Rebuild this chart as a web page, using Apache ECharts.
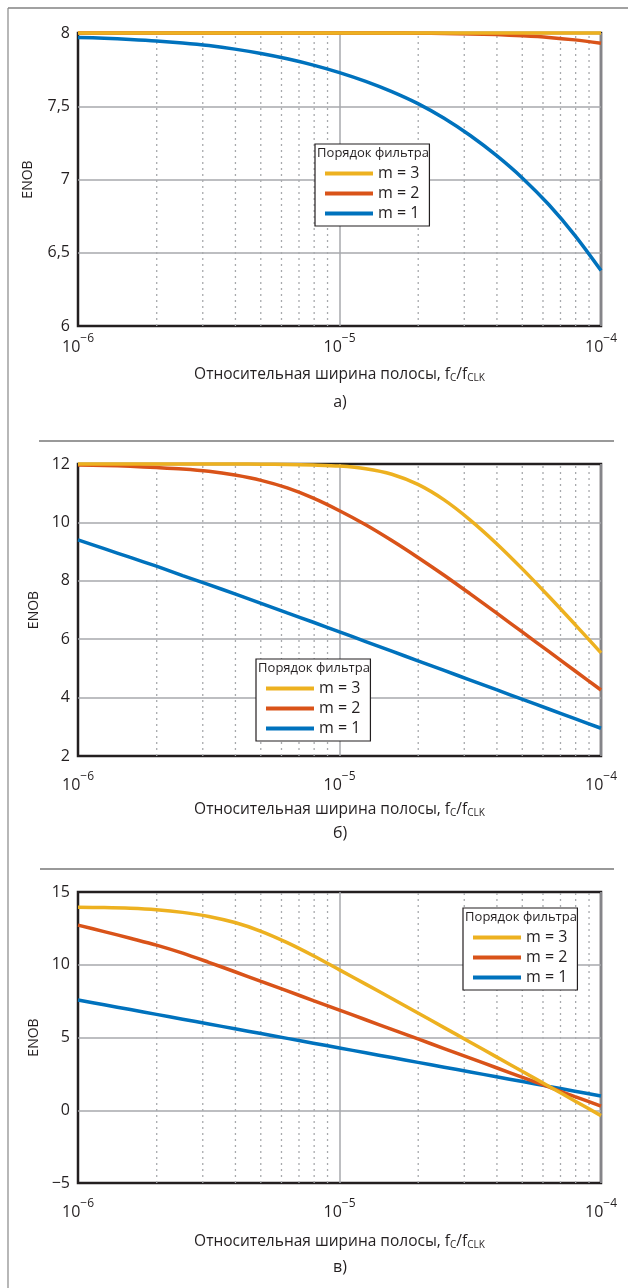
<!DOCTYPE html>
<html>
<head>
<meta charset="utf-8">
<script src="https://cdn.jsdelivr.net/npm/echarts@6/dist/echarts.min.js"></script>
<style>
html, body { margin: 0; padding: 0; background: #fff; }
#chart { width: 628px; height: 1288px; }
</style>
</head>
<body>
<div id="chart"></div>
<script>
// относительная полоса fc/fclk (шаг 0.1 декады)
var freq = [1e-6, 1.259e-6, 1.585e-6, 1.995e-6, 2.512e-6, 3.162e-6, 3.981e-6, 5.012e-6, 6.31e-6, 7.943e-6,
	1e-5, 1.259e-5, 1.585e-5, 1.995e-5, 2.512e-5, 3.162e-5, 3.981e-5, 5.012e-5, 6.31e-5, 7.943e-5, 1e-4];
// дробные деления (пунктир)
var minorTicks = [2e-6, 3e-6, 4e-6, 5e-6, 6e-6, 7e-6, 8e-6, 9e-6,
	2e-5, 3e-5, 4e-5, 5e-5, 6e-5, 7e-5, 8e-5, 9e-5];

var seriesNames = ['m = 1', 'm = 2', 'm = 3'];
var legendNames = ['m = 3', 'm = 2', 'm = 1'];
var colors = ['#0072bd', '#d95319', '#edb120'];

// а)
var enobA1 = [7.97, 7.964, 7.956, 7.946, 7.932, 7.914, 7.89, 7.86, 7.824, 7.781, 7.73, 7.67, 7.6, 7.518, 7.418, 7.3, 7.164, 7.009, 6.829, 6.619, 6.379];
var enobA2 = [8, 8, 8, 8, 8, 8, 8, 8, 8, 8, 8, 8, 8, 7.999, 7.997, 7.994, 7.989, 7.981, 7.97, 7.953, 7.93];
var enobA3 = [8, 8, 8, 8, 8, 8, 8, 8, 8, 8, 8, 8, 8, 8, 8, 8, 8, 8, 8, 8, 8];
// б)
var enobB1 = [9.4, 9.1, 8.8, 8.5, 8.18, 7.87, 7.55, 7.23, 6.9, 6.58, 6.25, 5.92, 5.59, 5.26, 4.93, 4.6, 4.27, 3.94, 3.61, 3.28, 2.95];
var enobB2 = [11.97, 11.95, 11.92, 11.88, 11.83, 11.75, 11.62, 11.44, 11.18, 10.83, 10.4, 9.92, 9.38, 8.8, 8.19, 7.55, 6.9, 6.24, 5.58, 4.92, 4.26];
var enobB3 = [12, 12, 12, 12, 12, 12, 11.998, 11.995, 11.985, 11.965, 11.93, 11.84, 11.65, 11.3, 10.77, 10.08, 9.28, 8.4, 7.47, 6.51, 5.53];
// в)
var enobC1 = [7.58, 7.25, 6.92, 6.59, 6.26, 5.93, 5.6, 5.27, 4.94, 4.61, 4.28, 3.95, 3.62, 3.29, 2.96, 2.63, 2.3, 1.97, 1.64, 1.31, 0.98];
var enobC2 = [12.72, 12.28, 11.82, 11.35, 10.8, 10.17, 9.52, 8.86, 8.2, 7.54, 6.88, 6.22, 5.56, 4.9, 4.24, 3.58, 2.92, 2.26, 1.6, 0.94, 0.28];
var enobC3 = [13.95, 13.93, 13.88, 13.78, 13.6, 13.32, 12.9, 12.3, 11.52, 10.62, 9.65, 8.67, 7.68, 6.68, 5.68, 4.68, 3.67, 2.66, 1.65, 0.64, -0.37];

var yMin = [6, 2, -5];
var yMax = [8, 12, 15];
var yStep = [0.5, 2, 5];
var captions = ['а)', 'б)', 'в)'];

var panels = [[enobA1, enobA2, enobA3], [enobB1, enobB2, enobB3], [enobC1, enobC2, enobC3]];

var font = "'Open Sans', 'Noto Sans', sans-serif";
var ink = '#231f20';
var gridGray = '#a7a9ac';

// раскладка
var grids = [
	{ left: 78, top: 33, width: 523, height: 293 },
	{ left: 78, top: 464, width: 523, height: 292 },
	{ left: 78, top: 892, width: 523, height: 291 }
];
var xLabelMargin = [7, 15, 15];
var xNameGap = [37, 42, 47];
var yNameGap = [43, 28, 29];
var captionY = [402, 833, 1267];
var legendPos = [[315, 144], [256, 659], [463, 908]];

function pairs(ys) {
	var out = [];
	for (var i = 0; i < freq.length; i++) {
		out.push([freq[i], ys[i]]);
	}
	return out;
}

// вертикальные отрезки на дробных делениях, разорванные пустыми точками
function minorSegments(lo, hi) {
	var out = [];
	for (var i = 0; i < minorTicks.length; i++) {
		out.push([minorTicks[i], lo], [minorTicks[i], hi], [minorTicks[i], '-']);
	}
	return out;
}

var xAxes = [], yAxes = [], series = [], legends = [], graphics = [];

for (var p = 0; p < 3; p++) {
	grids[p].show = true;
	grids[p].borderColor = ink;
	grids[p].borderWidth = 2.5;
	grids[p].backgroundColor = 'transparent';

	xAxes.push({
		type: 'log',
		logBase: 10,
		gridIndex: p,
		min: 1e-6,
		max: 1e-4,
		axisLine: { show: false },
		axisTick: { show: false },
		splitLine: { show: true, showMinLine: false, showMaxLine: false, lineStyle: { color: gridGray, width: 1.5 } },
		axisLabel: {
			margin: xLabelMargin[p],
			formatter: function (v) {
				var e = Math.round(Math.log(v) / Math.LN10);
				return '{b|10}{s|−' + (-e) + '}';
			},
			rich: {
				b: { fontSize: 16, lineHeight: 22, verticalAlign: 'bottom', color: ink, fontFamily: font },
				s: { fontSize: 12, lineHeight: 14, verticalAlign: 'top', color: ink, fontFamily: font }
			}
		},
		name: '{n|Относительная ширина полосы, f}{s|C}{n|/f}{s|CLK}',
		nameLocation: 'middle',
		nameGap: xNameGap[p],
		nameTextStyle: {
			rich: {
				n: { fontSize: 15.5, lineHeight: 20, verticalAlign: 'bottom', color: ink, fontFamily: font },
				s: { fontSize: 10, lineHeight: 16, verticalAlign: 'bottom', color: ink, fontFamily: font }
			}
		}
	});

	yAxes.push({
		type: 'value',
		gridIndex: p,
		min: yMin[p],
		max: yMax[p],
		interval: yStep[p],
		axisLine: { show: false },
		axisTick: { show: false },
		splitLine: { show: true, showMinLine: false, showMaxLine: false, lineStyle: { color: gridGray, width: 1.5 } },
		axisLabel: {
			margin: 8,
			fontSize: 16,
			color: ink,
			fontFamily: font,
			formatter: function (v) {
				return String(v).replace('.', ',').replace('-', '−');
			}
		},
		name: 'ENOB',
		nameLocation: 'middle',
		nameGap: yNameGap[p],
		nameTextStyle: { fontSize: 14, color: ink, fontFamily: font }
	});

	// пунктирная сетка
	series.push({
		type: 'line',
		xAxisIndex: p,
		yAxisIndex: p,
		data: minorSegments(yMin[p], yMax[p]),
		showSymbol: false,
		connectNulls: false,
		silent: true,
		z: 1,
		lineStyle: { color: gridGray, width: 1.3, type: [2, 4] },
		emphasis: { disabled: true }
	});

	for (var k = 0; k < 3; k++) {
		series.push({
			name: seriesNames[k],
			type: 'line',
			xAxisIndex: p,
			yAxisIndex: p,
			data: pairs(panels[p][k]),
			showSymbol: false,
			smooth: 0.3,
			clip: false,
			z: 3 + k,
			color: colors[k],
			lineStyle: { width: 3.5, color: colors[k] }
		});
	}

	legends.push({
		left: legendPos[p][0],
		top: legendPos[p][1],
		orient: 'vertical',
		data: legendNames,
		icon: 'rect',
		itemWidth: 48,
		itemHeight: 4,
		itemGap: 3,
		padding: [21, 10, 4, 10],
		backgroundColor: '#fff',
		borderColor: ink,
		borderWidth: 1.2,
		borderRadius: 0,
		selectedMode: false,
		textStyle: { fontSize: 16, lineHeight: 17, color: ink, fontFamily: font }
	});

	graphics.push({
		type: 'text',
		z: 100,
		x: legendPos[p][0] + 58,
		y: legendPos[p][1] + 3,
		style: { text: 'Порядок фильтра', fontSize: 13, fontFamily: font, fill: ink, textAlign: 'center', textVerticalAlign: 'top' }
	});

	graphics.push({
		type: 'text',
		x: 340,
		y: captionY[p],
		style: { text: captions[p], fontSize: 16, fontFamily: font, fill: ink, textAlign: 'center', textVerticalAlign: 'middle' }
	});
}

// рамка и разделители
graphics.push({ type: 'line', shape: { x1: 8, y1: 8, x2: 628, y2: 8 }, style: { stroke: '#444', lineWidth: 1.2 } });
graphics.push({ type: 'line', shape: { x1: 8, y1: 8, x2: 8, y2: 1288 }, style: { stroke: '#888', lineWidth: 1.2 } });
graphics.push({ type: 'line', shape: { x1: 39, y1: 441, x2: 614, y2: 441 }, style: { stroke: '#777', lineWidth: 1.3 } });
graphics.push({ type: 'line', shape: { x1: 40, y1: 869, x2: 614, y2: 869 }, style: { stroke: '#777', lineWidth: 1.3 } });

var chart = echarts.init(document.getElementById('chart'));
chart.setOption({
	animation: false,
	backgroundColor: '#fff',
	grid: grids,
	xAxis: xAxes,
	yAxis: yAxes,
	legend: legends,
	series: series,
	graphic: graphics
});
</script>
</body>
</html>
